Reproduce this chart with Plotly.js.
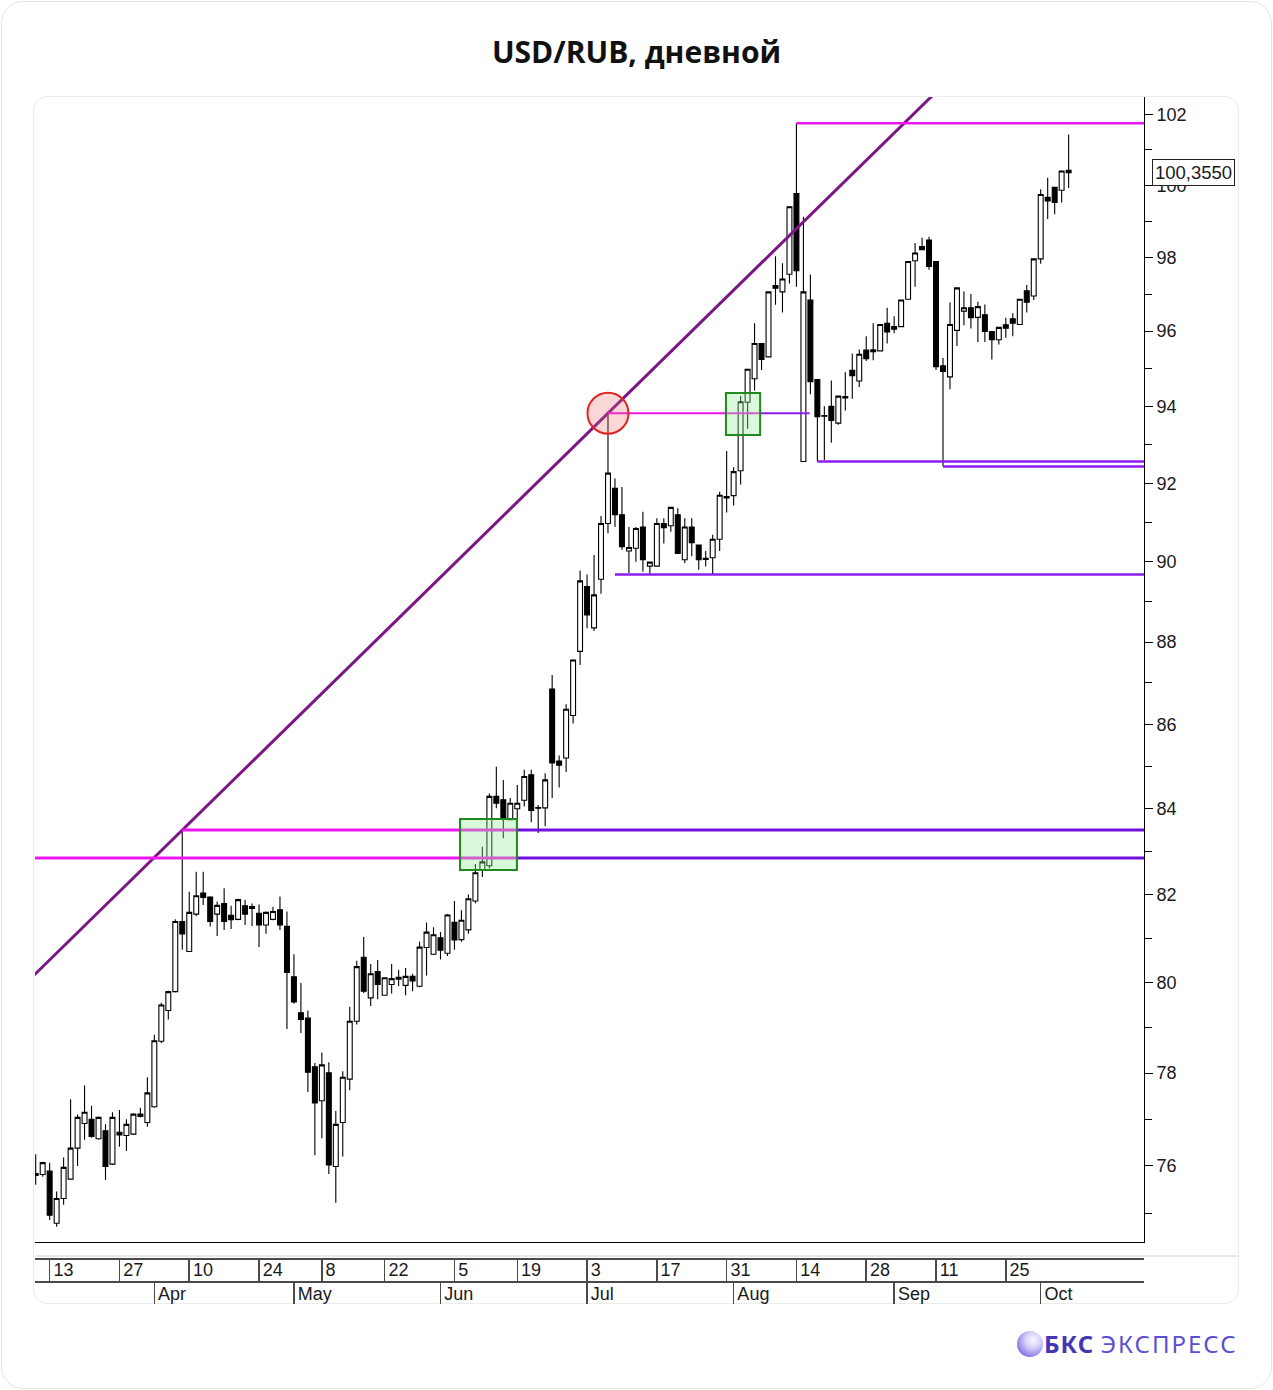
<!DOCTYPE html>
<html><head><meta charset="utf-8">
<script src="https://cdn.plot.ly/plotly-3.0.1.min.js"></script>
<style>
html,body{margin:0;padding:0;background:#fff;}
#wrap{position:relative;width:1273px;height:1390px;overflow:hidden;background:#fff;}
#outer{position:absolute;left:1px;top:1px;width:1271px;height:1388px;box-sizing:border-box;border:1.5px solid #e3e3e3;border-radius:22px;}
#inner{position:absolute;left:33px;top:96px;width:1206px;height:1208px;box-sizing:border-box;border:1px solid #ececec;border-radius:14px;}
#chart{position:absolute;left:0;top:0;width:1273px;height:1390px;}
</style></head>
<body><div id="wrap"><div id="outer"></div><div id="inner"></div><div id="chart"></div></div>
<script>
// ---------- data ----------
const dates = [
 '2023-03-09','2023-03-10','2023-03-13','2023-03-14','2023-03-15','2023-03-16','2023-03-17','2023-03-20','2023-03-21','2023-03-22','2023-03-23','2023-03-24','2023-03-27','2023-03-28','2023-03-29','2023-03-30','2023-03-31',
 '2023-04-03','2023-04-04','2023-04-05','2023-04-06','2023-04-07','2023-04-10','2023-04-11','2023-04-12','2023-04-13','2023-04-14','2023-04-17','2023-04-18','2023-04-19','2023-04-20','2023-04-21','2023-04-24','2023-04-25','2023-04-26','2023-04-27','2023-04-28',
 '2023-05-02','2023-05-03','2023-05-04','2023-05-05','2023-05-08','2023-05-10','2023-05-11','2023-05-12','2023-05-15','2023-05-16','2023-05-17','2023-05-18','2023-05-19','2023-05-22','2023-05-23','2023-05-24','2023-05-25','2023-05-26','2023-05-29','2023-05-30','2023-05-31',
 '2023-06-01','2023-06-02','2023-06-05','2023-06-06','2023-06-07','2023-06-08','2023-06-09','2023-06-13','2023-06-14','2023-06-15','2023-06-16','2023-06-19','2023-06-20','2023-06-21','2023-06-22','2023-06-23','2023-06-26','2023-06-27','2023-06-28','2023-06-29','2023-06-30',
 '2023-07-03','2023-07-04','2023-07-05','2023-07-06','2023-07-07','2023-07-10','2023-07-11','2023-07-12','2023-07-13','2023-07-14','2023-07-17','2023-07-18','2023-07-19','2023-07-20','2023-07-21','2023-07-24','2023-07-25','2023-07-26','2023-07-27','2023-07-28','2023-07-31',
 '2023-08-01','2023-08-02','2023-08-03','2023-08-04','2023-08-07','2023-08-08','2023-08-09','2023-08-10','2023-08-11','2023-08-14','2023-08-15','2023-08-16','2023-08-17','2023-08-18','2023-08-21','2023-08-22','2023-08-23','2023-08-24','2023-08-25','2023-08-28','2023-08-29','2023-08-30','2023-08-31',
 '2023-09-01','2023-09-04','2023-09-05','2023-09-06','2023-09-07','2023-09-08','2023-09-11','2023-09-12','2023-09-13','2023-09-14','2023-09-15','2023-09-18','2023-09-19','2023-09-20','2023-09-21','2023-09-22','2023-09-25','2023-09-26','2023-09-27','2023-09-28','2023-09-29',
 '2023-10-02','2023-10-03','2023-10-04','2023-10-05','2023-10-06'
];
const open = [
 75.84,75.82,75.89,74.79,75.31,75.72,76.38,76.91,77.00,76.58,76.75,76.04,76.72,76.65,76.68,77.11,76.93,
 77.27,78.70,79.38,79.80,81.38,80.70,81.55,82.03,81.94,81.55,81.79,81.52,81.43,81.74,81.72,81.57,81.30,81.43,81.65,81.27,
 80.13,79.33,79.21,78.14,77.40,78.01,75.99,76.93,77.87,79.14,80.57,79.66,80.25,79.72,79.96,80.12,79.94,80.14,79.92,80.79,80.64,
 81.01,80.66,81.36,80.97,81.19,81.85,82.55,82.66,84.28,84.20,83.73,83.99,84.19,84.79,84.02,84.01,86.85,85.12,85.19,86.21,87.77,
 89.38,88.35,89.56,90.97,91.87,91.19,90.27,90.34,90.88,89.89,89.89,90.97,90.91,91.19,90.05,90.88,90.42,90.09,90.10,90.57,91.66,
 91.68,92.32,94.11,94.73,95.67,95.31,97.23,97.06,97.54,99.77,92.56,96.84,94.71,93.76,94.00,93.56,94.22,94.95,94.67,95.49,95.45,95.47,96.21,
 96.12,96.12,96.86,97.91,98.30,98.48,97.89,95.07,94.78,96.02,96.54,96.63,96.37,96.44,95.99,95.77,96.17,96.33,96.18,97.09,96.95,
 97.96,99.66,99.94,99.86,100.42
];
const high = [
 76.25,76.09,76.07,75.46,76.18,77.43,77.10,77.73,77.29,77.06,76.89,77.15,77.20,77.00,77.13,77.25,77.91,
 78.84,79.55,79.82,81.43,83.49,82.06,82.52,82.52,81.96,81.84,82.14,81.74,81.90,81.88,81.79,81.77,81.61,81.72,81.95,81.61,
 80.64,79.99,79.38,78.22,78.45,78.24,77.18,78.04,79.46,80.49,81.03,80.42,80.51,80.12,80.42,80.29,80.33,80.20,80.92,81.36,81.25,
 81.14,81.55,81.85,81.64,82.00,82.70,83.10,84.35,84.98,84.67,84.24,84.55,84.91,84.91,84.08,84.83,87.19,85.25,86.48,87.58,89.78,
 89.68,90.17,91.16,93.82,92.12,91.90,90.88,90.88,91.27,90.00,91.10,91.10,91.39,91.36,91.10,91.10,90.43,90.27,90.68,91.78,92.83,
 92.41,94.27,94.99,96.21,95.68,97.07,98.03,97.84,99.42,101.75,99.12,97.53,94.72,94.00,94.68,94.28,94.90,95.40,95.51,95.86,96.21,96.19,96.63,
 96.40,96.85,97.90,98.40,98.54,98.57,97.90,95.28,96.77,97.18,97.07,97.00,96.79,96.72,96.00,96.11,96.36,96.48,96.87,97.25,97.97,
 99.89,100.21,99.95,100.41,101.43
];
const low = [
 75.60,75.77,74.86,74.72,75.18,75.72,76.00,76.56,76.60,76.56,75.70,76.02,76.41,76.32,76.66,77.04,76.84,
 77.25,78.66,79.18,79.78,80.74,80.70,81.50,81.76,81.27,81.05,81.19,81.21,81.41,81.30,81.28,80.80,81.10,81.41,81.19,78.97,
 79.53,78.88,77.59,76.23,76.59,75.83,75.22,76.20,77.63,79.07,79.77,79.48,79.63,79.71,79.76,79.92,79.72,79.81,79.90,80.16,80.62,
 80.52,80.60,80.74,80.92,81.10,81.80,82.40,82.60,84.00,83.30,83.72,83.73,84.04,83.67,83.42,83.58,84.24,84.49,84.86,86.02,87.44,
 88.34,88.27,89.20,90.72,90.88,90.30,89.72,90.00,89.75,89.70,89.88,90.46,90.76,90.20,89.97,90.14,89.80,89.88,89.68,90.27,91.25,
 91.43,91.97,93.41,94.42,94.96,95.30,96.71,96.50,97.29,97.20,92.56,94.32,92.56,92.60,93.05,93.52,93.89,94.20,94.51,95.20,95.22,95.46,95.67,
 95.94,96.11,96.85,97.20,98.20,97.66,94.96,92.43,94.45,95.60,96.16,96.07,95.71,95.71,95.24,95.64,95.82,95.86,96.17,96.50,96.84,
 97.83,99.06,99.19,99.52,99.92
];
const close = [
 75.80,76.07,74.96,75.31,75.97,76.38,77.04,77.15,76.63,77.04,75.99,77.04,76.66,76.89,77.11,77.06,77.57,
 78.71,79.50,79.80,81.38,81.10,81.59,81.97,81.93,81.38,81.75,81.38,81.42,81.88,81.55,81.68,81.30,81.59,81.61,81.30,80.23,
 79.57,79.18,78.02,77.35,78.18,76.02,76.89,77.91,79.14,80.36,79.81,80.20,79.96,80.11,80.09,80.08,80.14,80.04,80.80,81.14,81.08,
 80.73,81.53,80.96,81.41,81.90,82.50,82.75,84.28,84.12,83.77,84.12,84.12,84.75,83.95,84.00,84.67,85.07,85.02,86.36,87.56,89.52,
 88.67,89.17,90.97,92.26,91.19,90.38,90.36,90.84,90.05,89.99,90.97,90.86,91.38,90.21,90.88,90.48,90.05,90.06,90.57,91.69,91.62,
 92.30,94.12,94.98,95.67,95.24,97.06,97.16,97.41,99.40,97.64,97.06,94.65,93.73,93.74,93.63,94.27,94.26,94.81,95.38,95.26,95.50,96.18,95.98,
 96.05,96.84,97.89,98.12,98.21,97.75,95.05,94.92,96.18,97.17,96.63,96.36,96.66,95.99,95.77,96.10,96.08,96.21,96.86,96.78,97.96,
 99.74,99.56,99.52,100.40,100.355
];
const dayTickDates = ['2023-03-13','2023-03-27','2023-04-10','2023-04-24','2023-05-08','2023-05-22','2023-06-05','2023-06-19','2023-07-03','2023-07-17','2023-07-31','2023-08-14','2023-08-28','2023-09-11','2023-09-25'];
const monthTickKeys = ['2023-04','2023-05','2023-06','2023-07','2023-08','2023-09','2023-10'];
const monthTickLabels = ['Apr','May','Jun','Jul','Aug','Sep','Oct'];
const yTickValues = [76,78,80,82,84,86,88,90,92,94,96,98,100,102];
const yMinorValues = [75,77,79,81,83,85,87,89,91,93,95,97,99,101];
const supportLevelLow = 82.84;   // lower breakout level (left, magenta)
const julyFloorLevel = 89.68;    // July consolidation floor

// ---------- derived ----------
const xIdx = dates.map((d, i) => i);
const dayTickIdx = dayTickDates.map(d => dates.indexOf(d));
const dayTickText = dayTickDates.map(d => String(parseInt(d.slice(8), 10)));
const monthTickIdx = monthTickKeys.map(m => dates.findIndex(d => d.startsWith(m)));
const last = close.length - 1;

// trend line through two highs (Apr 7 and Jul 6)
const tA = 21, tB = 82;
function trendAt(x) {
  const la = Math.log(high[tA]), lb = Math.log(high[tB]);
  return Math.exp(la + (lb - la) * (x - tA) / (tB - tA));
}
const trendX = [-2, 140];

const MAG = '#ee16ee', VIO = '#7010df', TREND = '#7a1784', VIO2 = '#8a1cf0';
const XR = [-0.1, 158.8];

function seg(x0, x1, y, color, w) {
  return {type:'scatter', mode:'lines', x:[x0, x1], y:[y, y], line:{color:color, width:w},
          hoverinfo:'skip', showlegend:false, xaxis:'x', yaxis:'y'};
}

const traces = [
  {type:'candlestick', x:xIdx, open:open, high:high, low:low, close:close,
   increasing:{line:{color:'#000', width:1.1}, fillcolor:'#ffffff'},
   decreasing:{line:{color:'#000', width:1.1}, fillcolor:'#000000'},
   whiskerwidth:0, hoverinfo:'skip', showlegend:false, xaxis:'x', yaxis:'y'},
  {type:'scatter', mode:'lines', x:trendX, y:trendX.map(trendAt), line:{color:TREND, width:3},
   hoverinfo:'skip', showlegend:false},
  seg(-2, 68.95, supportLevelLow, MAG, 3),
  seg(68.95, 170, supportLevelLow, VIO, 3),
  seg(tA, 68.95, high[tA], MAG, 3),
  seg(68.95, 170, high[tA], VIO, 3),
  seg(tB, 103.8, high[tB], MAG, 2),
  seg(103.8, 110.9, high[tB], VIO2, 2),
  seg(109, 170, high[109], MAG, 2.5),
  seg(112, 170, low[112], VIO2, 2.5),
  seg(130, 170, low[130], VIO2, 2.5),
  seg(83, 170, julyFloorLevel, VIO2, 2.5),
  {type:'scatter', mode:'lines', x:[0], y:[null], xaxis:'x2', yaxis:'y', hoverinfo:'skip', showlegend:false},
  {type:'scatter', mode:'lines', x:[0], y:[null], xaxis:'x3', yaxis:'y', hoverinfo:'skip', showlegend:false}
];

const FONT = 'Liberation Sans, Arial, sans-serif';
const H = 1390, TOP = 97, BOT = 1303, PH = BOT - TOP;
const pY = py => (BOT - py) / PH;
const PX_PER_DAY = 1109 / (XR[1] - XR[0]);
const PX_PER_LN = (1242 - TOP) / Math.log(102.50 / 74.40);
const circR = 20.5;

const iconSvg = "<svg xmlns='http://www.w3.org/2000/svg' width='60' height='60' viewBox='0 0 60 60'><defs><radialGradient id='g' cx='0.62' cy='0.35' r='0.75'><stop offset='0' stop-color='#f7f6ff'/><stop offset='0.4' stop-color='#d6d1fa'/><stop offset='0.85' stop-color='#8c80e6'/><stop offset='1' stop-color='#6a5cd8'/></radialGradient></defs><circle cx='30' cy='30' r='29' fill='url(#g)'/></svg>";

const layout = {
  width:1273, height:H,
  margin:{l:35, r:129, t:TOP, b:H - BOT, autoexpand:false},
  paper_bgcolor:'rgba(0,0,0,0)', plot_bgcolor:'rgba(0,0,0,0)',
  showlegend:false, hovermode:false, dragmode:false,
  boxgap:0.0, boxgroupgap:0.3,
  title:{text:'<b>USD/RUB, дневной</b>', font:{family:'Open Sans, Noto Sans, sans-serif', size:30, color:'#111'},
         x:0.5, xref:'container', xanchor:'center', y:1 - 52/H, yref:'container', yanchor:'middle'},
  xaxis:{domain:[0,1], anchor:'y', range:XR, showline:true, linecolor:'#000', linewidth:1,
         ticks:'', showticklabels:false, showgrid:false, zeroline:false, rangeslider:{visible:false}, fixedrange:true},
  xaxis2:{overlaying:'x', anchor:'free', position:pY(1259), range:XR, showline:true, linecolor:'#4a4a4a', linewidth:2,
          ticks:'outside', ticklen:23, tickwidth:1.5, tickcolor:'#4a4a4a', tickmode:'array', tickvals:dayTickIdx, ticktext:dayTickText,
          ticklabelposition:'outside right', ticklabelstandoff:-6, ticklabelshift:2,
          tickfont:{family:FONT, size:18, color:'#1a1a1a'}, showgrid:false, zeroline:false, fixedrange:true},
  xaxis3:{overlaying:'x', anchor:'free', position:pY(1282), range:XR, showline:true, linecolor:'#4a4a4a', linewidth:2,
          ticks:'outside', ticklen:21, tickwidth:1.5, tickcolor:'#4a4a4a', tickmode:'array', tickvals:monthTickIdx, ticktext:monthTickLabels,
          ticklabelposition:'outside right', ticklabelstandoff:-5, ticklabelshift:2,
          tickfont:{family:FONT, size:18, color:'#1a1a1a'}, showgrid:false, zeroline:false, fixedrange:true},
  yaxis:{domain:[pY(1242), 1], anchor:'x', side:'right', type:'log',
         range:[Math.log10(74.40), Math.log10(102.50)],
         showline:true, linecolor:'#000', linewidth:1, ticks:'outside', ticklen:8, tickcolor:'#000', tickwidth:1,
         tickmode:'array', tickvals:yTickValues, ticktext:yTickValues.map(String),
         minor:{tickmode:'array', tickvals:yMinorValues, ticks:'outside', ticklen:7, tickcolor:'#000', tickwidth:1},
         tickfont:{family:FONT, size:18, color:'#1a1a1a'}, showgrid:false, zeroline:false, fixedrange:true},
  shapes:[
    {type:'rect', xref:'x', yref:'y', x0:60.8, x1:68.95, y0:82.56, y1:83.75, layer:'above',
     fillcolor:'rgba(150,235,150,0.35)', line:{color:'#1f8a1f', width:2}},
    {type:'rect', xref:'x', yref:'y', x0:98.9, x1:103.8, y0:93.25, y1:94.35, layer:'above',
     fillcolor:'rgba(150,235,150,0.35)', line:{color:'#1f8a1f', width:2}},
    {type:'circle', xref:'x', yref:'y',
     x0:tB - circR / PX_PER_DAY, x1:tB + circR / PX_PER_DAY,
     y0:high[tB] * Math.exp(-circR / PX_PER_LN), y1:high[tB] * Math.exp(circR / PX_PER_LN), layer:'above',
     fillcolor:'rgba(235,110,110,0.28)', line:{color:'#e02424', width:2}},
    {type:'line', xref:'paper', yref:'paper', x0:0, x1:(1238 - 35)/1109, y0:pY(1256), y1:pY(1256),
     line:{color:'#d2d2d2', width:1}}
  ],
  annotations:[
    {xref:'paper', x:1, xanchor:'left', xshift:8, yref:'y', y:Math.log10(close[last]), yanchor:'middle',
     text:close[last].toFixed(4).replace('.', ','), showarrow:false, bgcolor:'#fff', bordercolor:'#222', borderwidth:1, borderpad:2,
     font:{family:FONT, size:18.5, color:'#1a1a1a'}},
    {xref:'paper', yref:'paper', x:(1240 - 35)/1109, xanchor:'right', y:pY(1343), yanchor:'middle', showarrow:false,
     text:'<span style="color:#4536b4;letter-spacing:1px"><b>БКС</b></span> <span style="color:#5b4fd0;letter-spacing:2px">ЭКСПРЕСС</span>',
     font:{family:'Noto Sans, sans-serif', size:24, color:'#5b4fd0'}}
  ],
  images:[
    {source:'data:image/svg+xml;charset=utf-8,' + encodeURIComponent(iconSvg), xref:'paper', yref:'paper',
     x:(1016.5 - 35)/1109, y:pY(1330.5), sizex:27/1109, sizey:27/PH, xanchor:'left', yanchor:'top', sizing:'stretch', layer:'above'}
  ]
};

Plotly.newPlot('chart', traces, layout, {staticPlot:true, displayModeBar:false});
</script></body></html>
